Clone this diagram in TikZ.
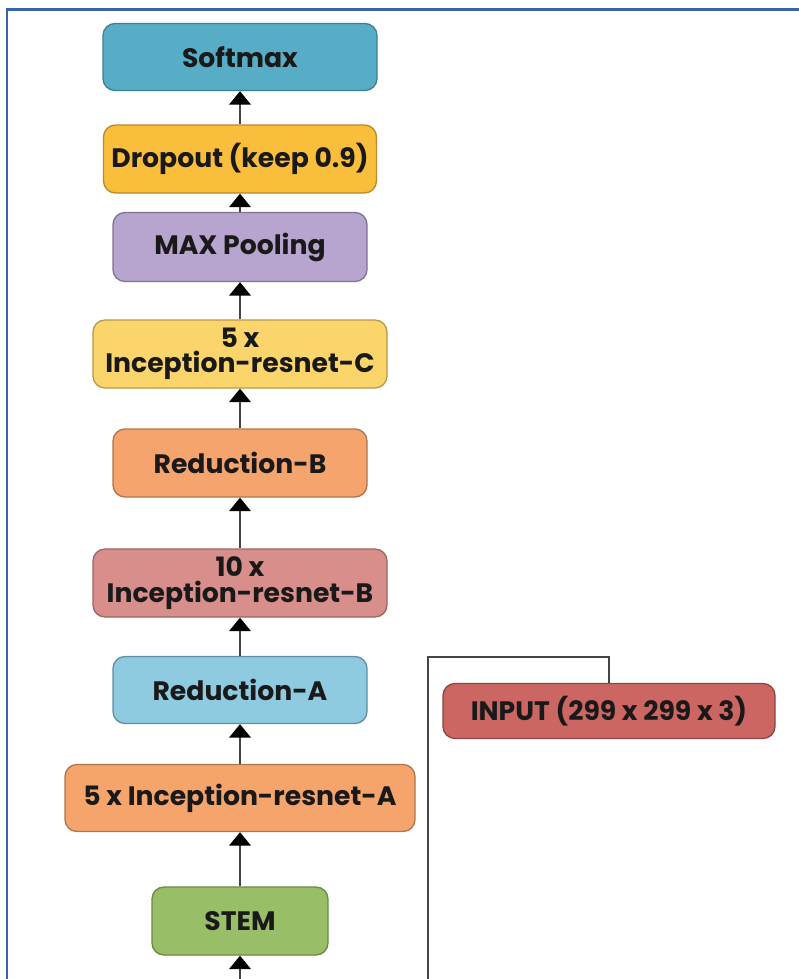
\documentclass[tikz,border=0pt]{standalone}
\usepackage{fontspec}
\setmainfont{Poppins}
\usetikzlibrary{arrows.meta}
\definecolor{framec}{HTML}{3B62B0}
\definecolor{linec}{HTML}{454545}
\definecolor{softf}{HTML}{58ADC6}\definecolor{softd}{HTML}{3D7F93}
\definecolor{dropf}{HTML}{F9BE3C}\definecolor{dropd}{HTML}{B9892A}
\definecolor{maxf}{HTML}{B7A5CF}\definecolor{maxd}{HTML}{7F7293}
\definecolor{incf}{HTML}{FAD56B}\definecolor{incd}{HTML}{B59A4A}
\definecolor{redbf}{HTML}{F4A46C}\definecolor{redbd}{HTML}{B0744B}
\definecolor{incbf}{HTML}{D88E8B}\definecolor{incbd}{HTML}{9C6462}
\definecolor{redaf}{HTML}{8ECBE0}\definecolor{redad}{HTML}{5F8FA0}
\definecolor{incaf}{HTML}{F5A46C}\definecolor{incad}{HTML}{B0744B}
\definecolor{stemf}{HTML}{98BE67}\definecolor{stemd}{HTML}{6A8A45}
\definecolor{inpf}{HTML}{CB6663}\definecolor{inpd}{HTML}{8E4442}
\begin{document}
\begin{tikzpicture}[x=0.75pt,y=-0.75pt,
  blk/.style={draw, rounded corners=9pt, line width=1pt, align=center,
    inner sep=0pt, minimum height=51pt, text=black!90,
    font=\bfseries\fontsize{20}{19}\selectfont},
  conn/.style={draw=linec, line width=1.5pt, -{Triangle[width=16pt,length=10pt,color=black]}}]
\useasboundingbox (0,0) rectangle (799,979);
\clip (0,0) rectangle (799,979);
\fill[white] (0,0) rectangle (799,979);
\draw[framec, line width=1.8pt] (7,985) -- (7,9.5) -- (805,9.5);

\node[blk, fill=softf, draw=softd, minimum width=205.5pt, minimum height=50.25pt] (soft) at (240,57) {Softmax};
\node[blk, fill=dropf, draw=dropd, minimum width=204.75pt] (drop) at (240,159) {Dropout (keep 0.9)};
\node[blk, fill=maxf, draw=maxd, minimum width=190.5pt, minimum height=51.75pt] (maxp) at (240,247) {MAX Pooling};
\node[blk, fill=incf, draw=incd, minimum width=220.5pt] (incc) at (240,354) {5 x\\Inception-resnet-C};
\node[blk, fill=redbf, draw=redbd, minimum width=190.5pt] (redb) at (240,463) {Reduction-B};
\node[blk, fill=incbf, draw=incbd, minimum width=220.5pt] (incb) at (240,583) {10 x\\Inception-resnet-B};
\node[blk, fill=redaf, draw=redad, minimum width=190.5pt, minimum height=50.25pt] (reda) at (240,690) {Reduction-A};
\node[blk, fill=incaf, draw=incad, minimum width=262.5pt, minimum height=50.25pt] (inca) at (240,798) {5 x Inception-resnet-A};
\node[blk, fill=stemf, draw=stemd, minimum width=132pt] (stem) at (240,921) {STEM};
\node[blk, fill=inpf, draw=inpd, minimum width=249pt, minimum height=41.25pt] (inp) at (609,711) {INPUT (299 x 299 x 3)};

\coordinate (c1) at (428,657);
\coordinate (c2) at (428,1010);

\draw[conn] (drop) -- (soft);
\draw[conn] (maxp) -- (drop);
\draw[conn] (incc) -- (maxp);
\draw[conn] (redb) -- (incc);
\draw[conn] (incb) -- (redb);
\draw[conn] (reda) -- (incb);
\draw[conn] (inca) -- (reda);
\draw[conn] (stem) -- (inca);
\draw[conn] (inp.north) |- (c1) -- (c2) -| (stem.south);
\end{tikzpicture}
\end{document}
